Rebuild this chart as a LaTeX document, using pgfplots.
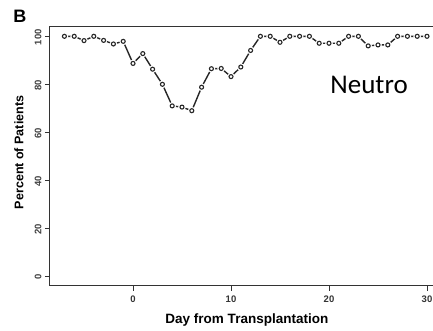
\documentclass[border=0pt]{standalone}
\usepackage{pgfplots}
\pgfplotsset{compat=1.18}
\usepackage{fontspec}
\setmainfont{Liberation Sans}
\newfontfamily\calfont{Carlito}
\pgfplotstableread{
x y
-7 100
-6 100
-5 98.2
-4 100
-3 98.3
-2 96.8
-1 97.9
0 88.7
1 92.8
2 86.3
3 80
4 71
5 70.5
6 69
7 78.8
8 86.5
9 86.6
10 83.2
11 87.2
12 94.1
13 100
14 100
15 97.5
16 100
17 100
18 100
19 97.1
20 97.1
21 97.1
22 100
23 100
24 96
25 96.4
26 96.4
27 100
28 100
29 100
30 100
}\neutro
\begin{document}
\begin{tikzpicture}
\begin{axis}[
  at={(0,0)}, anchor=south west,
  scale only axis, width=391.6pt, height=259.2pt,
  xmin=-8.48, xmax=31.48, ymin=-4, ymax=104,
  axis line style={draw=black!80, line width=1.1pt},
  xtick={0,10,20,30}, ytick={0,20,40,60,80,100},
  tick align=outside, tick pos=left,
  major tick length=5pt,
  tick style={black!80, line width=0.9pt},
  /pgf/number format/assume math mode=true,
  xticklabel style={font=\fontsize{9.5}{11}\selectfont\bfseries, text=black!80, yshift=-1pt},
  yticklabel style={font=\fontsize{9.5}{11}\selectfont\bfseries, text=black!75, rotate=90, anchor=south, xshift=-1pt},
  xlabel={Day from Transplantation},
  ylabel={Percent of Patients},
  xlabel style={font=\fontsize{13.5}{16}\selectfont\bfseries, at={(axis description cs:0.503,-0.131)}, anchor=center},
  ylabel style={font=\fontsize{12.5}{15}\selectfont\bfseries, at={(axis description cs:-0.0792,0.515)}, anchor=center},
  clip=false,
]
\addplot[black!85, line width=1.4pt] table[x=x,y=y] {\neutro};
\addplot[only marks, mark=*, mark size=3.6pt, mark options={fill=white, draw=white}] table[x=x,y=y] {\neutro};
\addplot[only marks, mark=o, mark size=2pt, mark options={draw=black!85, line width=1.1pt}] table[x=x,y=y] {\neutro};
\node[font=\fontsize{18}{20}\selectfont\bfseries, anchor=center] at (axis description cs:-0.0764,1.0394) {B};
\node[font=\calfont\fontsize{27}{30}\selectfont, anchor=center] at (axis description cs:0.815,0.775) {Neutro};
\end{axis}
\pgfresetboundingbox
\useasboundingbox (-49.9pt,-44.1pt) rectangle (383.1pt,285.9pt);
\end{tikzpicture}
\end{document}
